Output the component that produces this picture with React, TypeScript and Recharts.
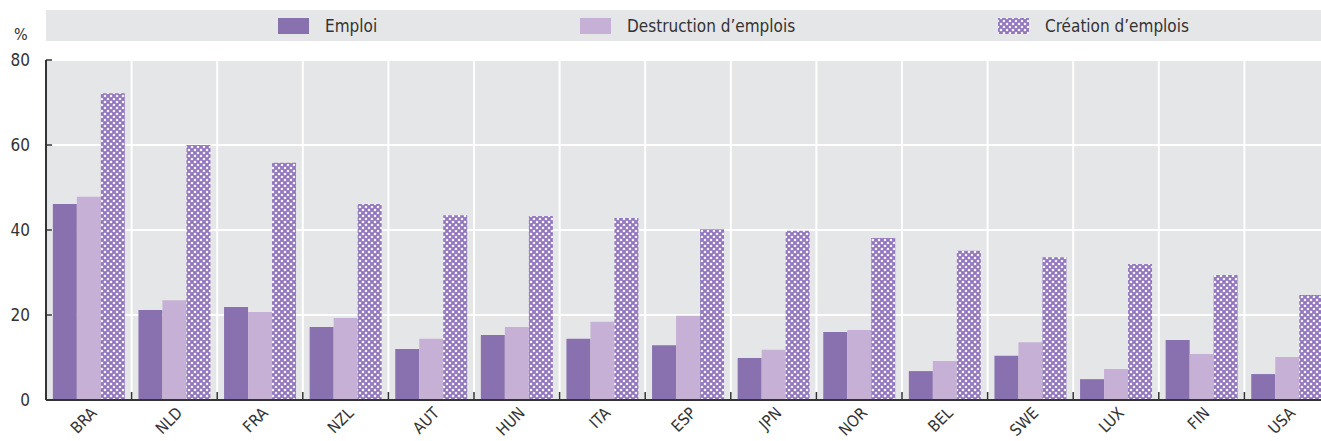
import React from 'react'
import { BarChart, Bar, XAxis, YAxis, CartesianGrid } from 'recharts'

const COUNTRIES = ['BRA', 'NLD', 'FRA', 'NZL', 'AUT', 'HUN', 'ITA', 'ESP', 'JPN', 'NOR', 'BEL', 'SWE', 'LUX', 'FIN', 'USA']
const EMPLOI = [46.1, 21.2, 21.9, 17.2, 12.0, 15.3, 14.4, 12.9, 9.9, 16.0, 6.8, 10.4, 4.9, 14.1, 6.1]
const DESTRUCTION = [47.8, 23.5, 20.7, 19.3, 14.4, 17.2, 18.4, 19.8, 11.8, 16.5, 9.2, 13.6, 7.3, 10.8, 10.1]
const CREATION = [72.2, 60.0, 55.8, 46.1, 43.5, 43.3, 42.8, 40.2, 39.8, 38.1, 35.1, 33.6, 32.0, 29.4, 24.7]
const Y_TICKS = [0, 20, 40, 60, 80]

const SERIES = [
  { key: 'emploi', name: 'Emploi', fill: '#8971B0', legendX: 232 },
  { key: 'destruction', name: 'Destruction d\u2019emplois', fill: '#C7B0D5', legendX: 534 },
  { key: 'creation', name: 'Cr\u00e9ation d\u2019emplois', fill: 'url(#hatch)', legendX: 952 },
]

const data = COUNTRIES.map((country, i) => ({
  country,
  emploi: EMPLOI[i],
  destruction: DESTRUCTION[i],
  creation: CREATION[i],
}))

// page is 1321 wide; the chart runs a little past the right edge and gets cropped
const W = 1321
const H = 441
const CHART_W = 1330
const LEFT = 46
const BAND = (CHART_W - LEFT) / COUNTRIES.length
const FONT = "'Liberation Sans Narrow', 'DejaVu Sans Condensed', 'Roboto', sans-serif"
const INK = '#333333'

const YTick = (props: any) => {
  const { x, y, payload } = props
  return (
    <g>
      <line x1={x} x2={x + 6} y1={y} y2={y} stroke={INK} strokeWidth={1.5} />
      <text x={x - 16} y={y} textAnchor="end" dominantBaseline="central" fontSize={17} fill={INK} fontFamily={FONT}>
        {payload.value}
      </text>
    </g>
  )
}

const XTick = (props: any) => {
  const { x, y, payload, index } = props
  return (
    <g>
      {index < COUNTRIES.length - 1 && (
        <line x1={x + BAND / 2} x2={x + BAND / 2} y1={y} y2={y - 8} stroke={INK} strokeWidth={1.5} />
      )}
      <g transform={`translate(${x + 9}, ${y + 14}) rotate(-45)`}>
        <text x={0} y={0} textAnchor="end" fontSize={16} fill={INK} fontFamily={FONT}>
          {payload.value}
        </text>
      </g>
    </g>
  )
}

export default function App() {
  return (
    <div style={{ position: 'absolute', left: 0, top: 0, width: W, height: H, overflow: 'hidden', background: '#fff', fontFamily: FONT }}>
      <svg width={0} height={0} style={{ position: 'absolute' }}>
        <defs>
          <pattern id="hatch" patternUnits="userSpaceOnUse" width={6} height={6}>
            <rect width={6} height={6} fill="#fff" />
            <path d="M0,0 L6,6 M6,0 L0,6" stroke="#9176BE" strokeWidth={2} />
          </pattern>
        </defs>
      </svg>

      {/* legend strip */}
      <div style={{ position: 'absolute', left: LEFT, top: 10, width: W - LEFT, height: 31, background: '#E5E6E8' }}>
        {SERIES.map((s) => (
          <div key={s.key} style={{ position: 'absolute', left: s.legendX, top: 0, height: 31, display: 'flex', alignItems: 'center' }}>
            <svg width={31} height={16}>
              <rect width={31} height={16} fill={s.fill} />
            </svg>
            <span style={{ marginLeft: 16, fontSize: 17, color: INK }}>{s.name}</span>
          </div>
        ))}
      </div>

      <div style={{ position: 'absolute', left: 14, top: 25, fontSize: 16, color: INK }}>%</div>

      <BarChart
        width={CHART_W}
        height={H}
        data={data}
        margin={{ top: 60, right: 0, bottom: 0, left: 0 }}
        barCategoryGap="8%"
        barGap={0}
      >
        <CartesianGrid
          fill="#E5E6E8"
          stroke="#fff"
          strokeWidth={2}
          verticalCoordinatesGenerator={({ offset }: any) =>
            COUNTRIES.slice(1).map((_, i) => offset.left + ((i + 1) * offset.width) / COUNTRIES.length)
          }
        />
        <XAxis
          dataKey="country"
          interval={0}
          height={41}
          tickLine={false}
          tickSize={0}
          tickMargin={0}
          axisLine={{ stroke: INK, strokeWidth: 2 }}
          tick={(p: any) => <XTick {...p} />}
        />
        <YAxis
          width={LEFT}
          domain={[0, 80]}
          ticks={Y_TICKS}
          tickLine={false}
          tickSize={0}
          tickMargin={0}
          axisLine={{ stroke: INK, strokeWidth: 2 }}
          tick={(p: any) => <YTick {...p} />}
        />
        {SERIES.map((s) => (
          <Bar key={s.key} dataKey={s.key} name={s.name} fill={s.fill} isAnimationActive={false} />
        ))}
      </BarChart>
    </div>
  )
}
